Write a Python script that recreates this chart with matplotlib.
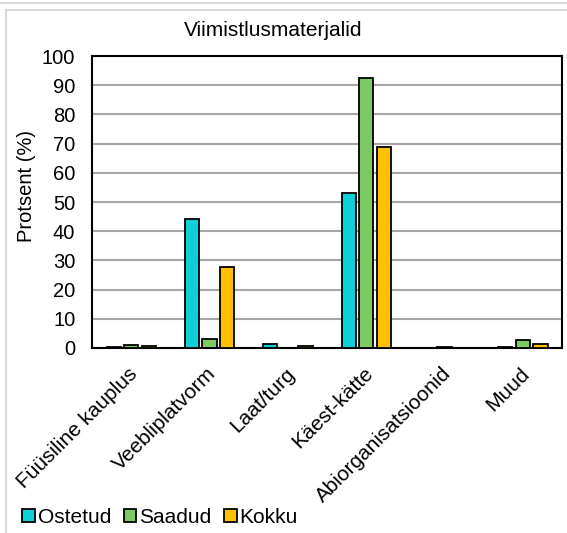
import numpy as np
import matplotlib.pyplot as plt
import matplotlib.transforms as mtransforms
from matplotlib.patches import Rectangle

plt.rcParams['font.family'] = ['Liberation Sans', 'DejaVu Sans']

kategooriad = ['Füüsiline kauplus', 'Veebliplatvorm', 'Laat/turg', 'Käest-kätte',
               'Abiorganisatsioonid', 'Muud']
ostetud = [0.3, 44.3, 1.4, 53.0, 0.0, 0.3]
saadud = [1.0, 3.0, 0.0, 92.5, 0.3, 2.7]
kokku = [0.6, 27.8, 0.8, 68.7, 0.15, 1.4]
sarjad = ['Ostetud', 'Saadud', 'Kokku']
varvid = ['#0FD0D8', '#7CCB62', '#FFC000']

fig = plt.figure(figsize=(5.67, 5.33), dpi=100)
ax = fig.add_axes([0.1623, 0.3471, 0.8289, 0.5478])

x = np.arange(len(kategooriad))
laius = 0.18
samm = 0.225
for i, (vaartused, nimi, v) in enumerate(zip([ostetud, saadud, kokku], sarjad, varvid)):
    ax.bar(x + (i - 1) * samm, vaartused, laius, color=v, edgecolor='black',
           linewidth=1.3, label=nimi, zorder=3)

ax.set_xlim(-0.5, len(kategooriad) - 0.5)
ax.set_ylim(0, 100)
ax.set_yticks(range(0, 101, 10))
ax.yaxis.grid(True, color='#A6A6A6', linewidth=1.5, zorder=0)
ax.tick_params(axis='y', length=0, labelsize=14.5, pad=12)
ax.tick_params(axis='x', length=0, labelsize=15, pad=0)
for s in ax.spines.values():
    s.set_linewidth(1.5)

ax.set_xticks(x)
ax.set_xticklabels(kategooriad, rotation=45, ha='right', va='top', rotation_mode='anchor')
nihe = mtransforms.ScaledTranslation(-3 / 100, -16 / 100, fig.dpi_scale_trans)
for lab in ax.get_xticklabels():
    lab.set_transform(lab.get_transform() + nihe)

ax.set_ylabel('Protsent (%)', fontsize=14.5, labelpad=6)
ax.yaxis.set_label_coords(-0.12, 0.555)
fig.text(273 / 567, 1 - 31 / 533, 'Viimistlusmaterjalid', fontsize=15, ha='center', va='center')

leg = fig.legend(loc='lower left', bbox_to_anchor=(0.017, -0.012), ncol=3, frameon=False,
                 fontsize=15, handlelength=0.6, handleheight=0.6, handletextpad=0.15,
                 columnspacing=0.6, borderaxespad=0.2)

fig.patches.append(Rectangle((6 / 567, -0.1), 1.2, 1 - 10 / 533 + 0.1,
                             transform=fig.transFigure, fill=False,
                             edgecolor='#D9D9D9', linewidth=1.5))
fig.patches.append(Rectangle((0, 1 - 3 / 533), 1, 0, transform=fig.transFigure,
                             fill=False, edgecolor='#D9D9D9', linewidth=1.5))

fig.savefig('out.png', dpi=100)
